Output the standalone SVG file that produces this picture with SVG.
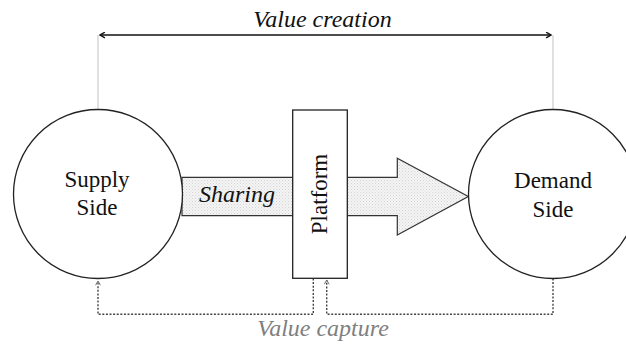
<svg xmlns="http://www.w3.org/2000/svg" width="626" height="345" viewBox="0 0 626 345">
<defs>
<style>
.node{fill:#fff;stroke:#222;stroke-width:1.3}
.lbl{font-family:'Liberation Serif','Times New Roman',Times,serif;font-size:23px;fill:#111;text-anchor:middle}
.it{font-style:italic;font-size:24px}
.guide{stroke:#d0d0d0;stroke-width:1.3;fill:none}
.dot{stroke:#444;stroke-width:1.4;stroke-dasharray:2 1.6;fill:none}
</style>
<pattern id="tex" width="3" height="3" patternUnits="userSpaceOnUse">
<rect width="3" height="3" fill="#f4f4f4"/>
<rect x="0" y="0" width="1" height="1" fill="#d4d4d4"/>
<rect x="1.5" y="1.5" width="1" height="1" fill="#dcdcdc"/>
</pattern>
<marker id="chev" viewBox="0 0 10 10" refX="9" refY="5" markerWidth="7" markerHeight="7" orient="auto-start-reverse" markerUnits="userSpaceOnUse">
<path d="M2,1 L9,5 L2,9" fill="none" stroke="#111" stroke-width="2"/>
</marker>
<marker id="small" viewBox="0 0 10 10" refX="9" refY="5" markerWidth="6" markerHeight="6" orient="auto" markerUnits="userSpaceOnUse">
<path d="M2,1 L9,5 L2,9" fill="none" stroke="#666" stroke-width="1.6"/>
</marker>
</defs>
<g id="connectors">
<line class="guide" x1="98" y1="35" x2="98" y2="110"/>
<line class="guide" x1="553" y1="35" x2="553" y2="110"/>
<line x1="100" y1="35" x2="551" y2="35" stroke="#111" stroke-width="1.5" marker-start="url(#chev)" marker-end="url(#chev)"/>
<g id="sharing-arrow">
<path d="M182,177.3 H397.3 V158.3 L468.3,196.5 L397.3,235 V215.7 H182 Z" fill="url(#tex)" stroke="#333" stroke-width="1.2"/>
</g>
<path class="dot" d="M313.3,278.5 V314.3 H98 V281" marker-end="url(#small)"/>
<path class="dot" d="M553,278.5 V314.3 H326.7 V280" marker-end="url(#small)"/>
</g>
<g id="supply">
<circle class="node" cx="98" cy="194" r="84.5"/>
<text class="lbl" x="97" y="187">Supply</text>
<text class="lbl" x="97" y="215">Side</text>
</g>
<g id="demand">
<circle class="node" cx="553" cy="194" r="84.5"/>
<text class="lbl" x="553" y="188">Demand</text>
<text class="lbl" x="553" y="216.5">Side</text>
</g>
<text class="lbl it" x="237" y="202">Sharing</text>
<g id="platform">
<rect class="node" x="292.7" y="110" width="54.6" height="168.3"/>
<text class="lbl" transform="translate(327,194) rotate(-90)">Platform</text>
</g>
<text class="lbl it" x="322.5" y="27">Value creation</text>
<text class="lbl it" x="323" y="336" style="fill:#808080">Value capture</text>
</svg>
